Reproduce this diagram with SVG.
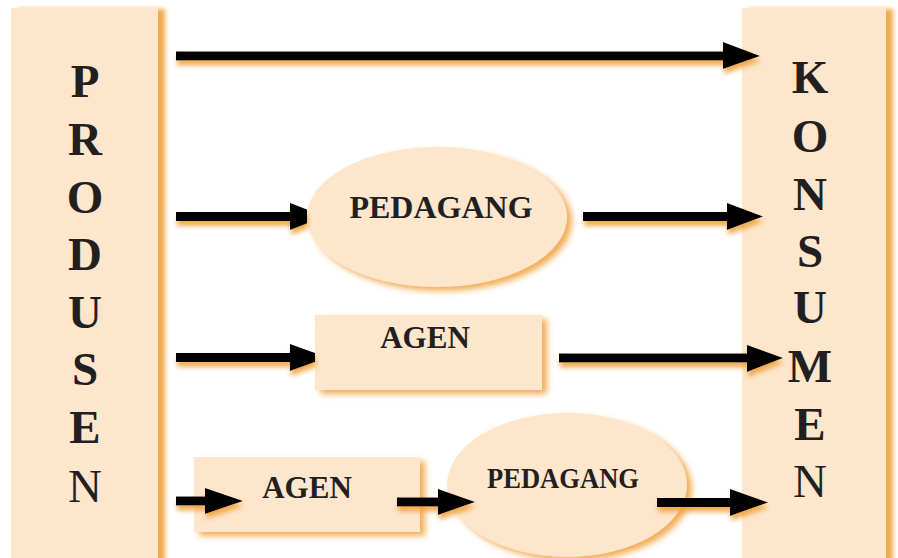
<svg xmlns="http://www.w3.org/2000/svg" width="898" height="558" viewBox="0 0 898 558">
<defs>
<style>
.box{fill:#fde6cc}
.col{font-family:"Liberation Serif","Times New Roman",serif;font-size:47px;font-weight:bold;fill:#231f20;text-anchor:middle}
.reg{font-weight:normal}
.lbl{font-family:"Liberation Serif","Times New Roman",serif;font-weight:bold;fill:#231f20;text-anchor:middle}
.ln{stroke:#000;stroke-width:9;fill:none}
.hd{fill:#000}
</style>
<filter id="sh" x="-10%" y="-20%" width="130%" height="150%">
<feDropShadow dx="5" dy="4" stdDeviation="3" flood-color="#f0a440" flood-opacity="0.9"/>
</filter>
<filter id="csh" x="-10%" y="-5%" width="130%" height="110%">
<feDropShadow dx="7" dy="1" stdDeviation="2.5" flood-color="#f0a440" flood-opacity="0.95"/>
</filter>
<filter id="ash" x="-5%" y="-50%" width="110%" height="250%">
<feDropShadow dx="1" dy="5" stdDeviation="2.5" flood-color="#f0a440" flood-opacity="0.9"/>
</filter>
</defs>
<rect width="898" height="558" fill="#fff"/>
<g id="produsen">
<rect class="box" x="11" y="8" width="147" height="556" filter="url(#csh)"/>
<text class="col" x="85" y="97">P</text>
<text class="col" x="85" y="155">R</text>
<text class="col" x="85" y="213">O</text>
<text class="col" x="85" y="270">D</text>
<text class="col" x="85" y="328">U</text>
<text class="col" x="85" y="385">S</text>
<text class="col" x="85" y="443">E</text>
<text class="col reg" x="85" y="502">N</text>
</g>
<g id="konsumen">
<rect class="box" x="742" y="8" width="144" height="556" filter="url(#csh)"/>
<text class="col" x="810" y="93">K</text>
<text class="col" x="810" y="152">O</text>
<text class="col" x="810" y="210">N</text>
<text class="col" x="810" y="267">S</text>
<text class="col" x="810" y="323">U</text>
<text class="col" x="810" y="382">M</text>
<text class="col" x="810" y="440">E</text>
<text class="col reg" x="810" y="497">N</text>
</g>
<g id="pedagang1">
<ellipse class="box" cx="437" cy="217" rx="130" ry="70" filter="url(#sh)"/>
<text class="lbl" x="441" y="218" font-size="32">PEDAGANG</text>
</g>
<g id="agen1">
<rect class="box" x="315" y="315" width="227" height="75" filter="url(#sh)"/>
<text class="lbl" x="425" y="348" font-size="31">AGEN</text>
</g>
<g id="agen2">
<rect class="box" x="194" y="457" width="226" height="75" filter="url(#sh)"/>
<text class="lbl" x="307" y="498" font-size="31">AGEN</text>
</g>
<g id="pedagang2">
<ellipse class="box" cx="567" cy="485" rx="120" ry="72" filter="url(#sh)"/>
<text class="lbl" x="563" y="488" font-size="29" textLength="152" lengthAdjust="spacingAndGlyphs">PEDAGANG</text>
</g>
<g id="connectors" filter="url(#ash)">
<line class="ln" x1="176" y1="56" x2="726" y2="56"/><polygon class="hd" points="723,42 760,56 723,69"/>
<line class="ln" x1="176" y1="216.5" x2="292" y2="216.5"/><polygon class="hd" points="290,203 307,209.5 307,223.5 290,230"/>
<line class="ln" x1="583" y1="216.5" x2="729" y2="216.5"/><polygon class="hd" points="727,203 763,216.5 727,230"/>
<line class="ln" x1="176" y1="357.5" x2="292" y2="357.5"/><polygon class="hd" points="290,344 315,353 315,362 290,371"/>
<line class="ln" x1="559" y1="358" x2="749" y2="358"/><polygon class="hd" points="747,345 783,358 747,372"/>
<line class="ln" x1="176" y1="501" x2="207" y2="501"/><polygon class="hd" points="205,488 243,501 205,514"/>
<line class="ln" x1="397" y1="502" x2="440" y2="502"/><polygon class="hd" points="438,489 475,502 438,515"/>
<line class="ln" x1="657" y1="502.5" x2="732" y2="502.5"/><polygon class="hd" points="730,489 768,502.5 730,516"/>
</g>
</svg>
